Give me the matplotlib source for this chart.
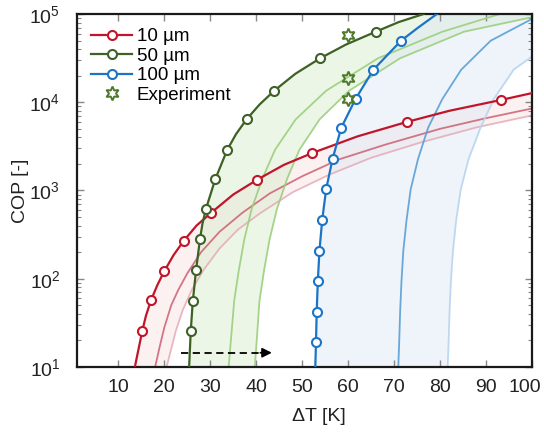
import numpy as np
import matplotlib
matplotlib.use("Agg")
import matplotlib.pyplot as plt
from matplotlib.transforms import ScaledTranslation

plt.rcParams['font.family'] = ['Liberation Sans', 'DejaVu Sans']
plt.rcParams['mathtext.fontset'] = 'custom'
plt.rcParams['mathtext.rm'] = 'Liberation Sans'
plt.rcParams['mathtext.it'] = 'Liberation Sans'

# ---- data ----
labels = ['10 µm', '50 µm', '100 µm']

# 10 µm (red)
red_mx = [15.2, 17.1, 20.0, 24.2, 30.2, 40.2, 52.2, 72.7, 93.2]
red_my = [25.6, 57, 122, 268, 560, 1325, 2660, 5970, 10600]
red_x = [13.6, 13.9, 14.4, 15.2, 16.0, 17.1, 18.5, 20.0, 22.0, 24.2, 27.0, 30.2, 35.0, 40.2,
         46.0, 52.2, 62.0, 72.7, 82.0, 93.2, 100]
red_y = [10, 12, 16, 25.6, 38, 57, 85, 122, 185, 268, 400, 560, 900, 1325,
         1950, 2660, 4100, 5970, 8000, 10600, 12700]
red1_x = [18.0, 19.0, 20.0, 21.5, 23.0, 25.0, 28.0, 32.0, 37.0, 43.0, 50.0, 58.0, 68.0, 80.0, 90.0, 100]
red1_y = [10, 17, 28, 50, 74, 115, 200, 340, 560, 930, 1450, 2250, 3300, 5000, 6600, 8500]
red2_x = [20.5, 21.5, 22.5, 24.0, 26.0, 28.5, 32.0, 36.0, 41.0, 48.0, 56.0, 65.0, 76.0, 88.0, 100]
red2_y = [10, 16, 25.6, 44, 75, 125, 220, 360, 560, 960, 1520, 2350, 3530, 5200, 7100]

# 50 µm (green)
grn_mx = [25.75, 26.2, 26.9, 27.75, 29.05, 31.1, 33.7, 37.9, 43.9, 53.9, 66.0]
grn_my = [25.4, 56, 124, 279, 617, 1349, 2900, 6410, 13500, 31500, 63000]
grn_x = [25.4, 25.75, 26.2, 26.9, 27.75, 28.3, 29.05, 31.1, 33.7, 35.6, 37.9, 40.7, 43.9,
         48.5, 53.9, 59.5, 66.0, 71.0, 76.4]
grn_y = [10, 25.4, 56, 124, 279, 420, 617, 1349, 2900, 4350, 6410, 9400, 13500,
         21000, 31500, 45000, 63000, 81000, 100000]
grn1_x = [34.0, 35.2, 36.2, 37.4, 39.0, 41.3, 44.1, 48.6, 55.2, 66.5, 80.5, 93.0]
grn1_y = [10, 56, 124, 279, 617, 1349, 2900, 6410, 13500, 31500, 63000, 100000]
grn2_x = [39.7, 40.7, 41.7, 42.9, 44.5, 46.7, 49.4, 53.8, 60.2, 71.3, 85.2, 100]
grn2_y = [10, 56, 124, 279, 617, 1349, 2900, 6410, 13500, 31500, 63000, 92000]

# 100 µm (blue)
blu_mx = [53.0, 53.15, 53.4, 53.75, 54.35, 55.2, 56.6, 58.5, 61.6, 65.5, 71.5]
blu_my = [19, 41.7, 94.4, 208, 463, 1030, 2275, 5150, 10900, 23400, 49800]
blu_x = [52.85, 53.0, 53.15, 53.4, 53.75, 54.35, 55.2, 56.6, 58.5, 61.6, 65.5, 71.5, 75.2, 79.3]
blu_y = [10, 19, 41.7, 94.4, 208, 463, 1030, 2275, 5150, 10900, 23400, 49800, 70000, 100000]
blu1_x = [70.9, 71.1, 71.3, 71.6, 72.0, 72.7, 73.6, 75.2, 77.4, 80.5, 84.6, 91.0, 100]
blu1_y = [10, 19, 41.7, 94.4, 208, 463, 1030, 2275, 5150, 10900, 23400, 49800, 88000]
blu2_x = [81.65, 81.85, 82.05, 82.35, 82.8, 83.5, 84.5, 86.2, 88.8, 91.7, 96.0, 100]
blu2_y = [10, 19, 41.7, 94.4, 208, 463, 1030, 2275, 5150, 10900, 23400, 33000]

# experiment
exp_x = [60, 60, 60]
exp_y = [57800, 18700, 10800]

# arrow (data coords)
arrow_x = [23.6, 43.4]
arrow_y = 14.5

xticks = [10, 20, 30, 40, 50, 60, 70, 80, 90, 100]
xlim = (1, 100)
ylim = (10, 1e5)

# ---- styles ----
c_red, c_red1, c_red2 = '#c0162b', '#c9566a', '#e3a7b1'
c_grn, c_grn1 = '#3e6126', '#9ccf7e'
c_blu, c_blu1, c_blu2 = '#1c74c6', '#5a9fd6', '#b8d4ee'

fig = plt.figure(figsize=(5.44, 4.32), dpi=100)
ax = fig.add_axes([0.1415, 0.1505, 0.8365, 0.8171])


def band(x_main, y_main, x_lo, y_lo, corner):
    px = list(x_main) + ([xlim[1]] if corner else []) + list(x_lo[::-1])
    py = list(y_main) + ([ylim[1]] if corner else []) + list(y_lo[::-1])
    return px, py


# fills
px, py = band(red_x, red_y, red2_x, red2_y, False)
ax.fill(px, py, color='#f4d8d8', alpha=0.35, lw=0, zorder=1)
px, py = band(grn_x, grn_y, grn2_x, grn2_y, True)
ax.fill(px, py, color='#d6ecc9', alpha=0.45, lw=0, zorder=1)
px, py = band(blu_x, blu_y, blu2_x, blu2_y, True)
ax.fill(px, py, color='#dbe7f5', alpha=0.45, lw=0, zorder=1)

# faint lines
ax.plot(red1_x, red1_y, color=c_red1, lw=1.3, alpha=0.8, zorder=2)
ax.plot(red2_x, red2_y, color=c_red2, lw=1.3, alpha=0.8, zorder=2)
ax.plot(grn1_x, grn1_y, color=c_grn1, lw=1.3, alpha=0.9, zorder=2)
ax.plot(grn2_x, grn2_y, color=c_grn1, lw=1.3, alpha=0.9, zorder=2)
ax.plot(blu1_x, blu1_y, color=c_blu1, lw=1.3, alpha=0.9, zorder=2)
ax.plot(blu2_x, blu2_y, color=c_blu2, lw=1.3, alpha=0.9, zorder=2)

# main lines + markers
ms = 6.5
for lx, ly, mx, my, c, lab in [(red_x, red_y, red_mx, red_my, c_red, labels[0]),
                               (grn_x, grn_y, grn_mx, grn_my, c_grn, labels[1]),
                               (blu_x, blu_y, blu_mx, blu_my, c_blu, labels[2])]:
    ax.plot(lx, ly, color=c, lw=1.6, zorder=3)
    ax.plot(mx, my, 'o', ms=ms, mfc='white', mec=c, mew=1.5, ls='none', zorder=4)
    ax.plot([], [], '-o', color=c, lw=1.6, ms=ms, mfc='white', mec=c, mew=1.5, label=lab)

ax.plot(exp_x, exp_y, marker=(6, 1, 0), ms=10, mfc='none', mec='#4d7a2a', mew=1.4,
        ls='none', zorder=5, label='Experiment')

# arrow
ax.plot([arrow_x[0], arrow_x[1] - 2.2], [arrow_y, arrow_y], color='black', lw=1.3,
        ls=(0, (4, 2.5)), zorder=5)
ax.annotate('', xy=(arrow_x[1], arrow_y), xytext=(arrow_x[1] - 2.5, arrow_y),
            arrowprops=dict(arrowstyle='-|>', color='black', lw=1.3, mutation_scale=14,
                            shrinkA=0, shrinkB=0), zorder=5)

ax.set_yscale('log')
ax.set_xlim(*xlim)
ax.set_ylim(*ylim)
ax.set_xticks(xticks)
ax.set_xticklabels([str(t) for t in xticks])
ax.set_yticks([10, 100, 1000, 10000, 100000])
ax.set_yticklabels([r'$10^{1}$', r'$10^{2}$', r'$10^{3}$', r'$10^{4}$', r'$10^{5}$'])

ax.tick_params(which='both', direction='in', top=True, right=True, color='#888888',
               labelsize=14, labelcolor='#222222')
ax.tick_params(which='major', length=5, width=1)
ax.tick_params(which='minor', length=3, width=0.8)
ax.tick_params(axis='x', pad=9)
ax.tick_params(axis='y', pad=12)

# nudge the last x tick label left so it stays inside the figure
last = ax.get_xticklabels()[-1]
last.set_transform(last.get_transform() + ScaledTranslation(-5 / 72, 0, fig.dpi_scale_trans))

for s in ax.spines.values():
    s.set_linewidth(1.6)
    s.set_color('#1a1a1a')

ax.set_xlabel('ΔT [K]', fontsize=14, color='#222222')
ax.xaxis.set_label_coords(0.532, -0.116)
ax.set_ylabel('COP [-]', fontsize=14, color='#222222')
ax.yaxis.set_label_coords(-0.105, 0.5)

ax.legend(loc='upper left', frameon=False, fontsize=13.5, handlelength=2.2,
          handletextpad=0.25, labelspacing=0.13, borderaxespad=0.35,
          bbox_to_anchor=(0.0, 1.0))

fig.savefig('out.png', dpi=100)
